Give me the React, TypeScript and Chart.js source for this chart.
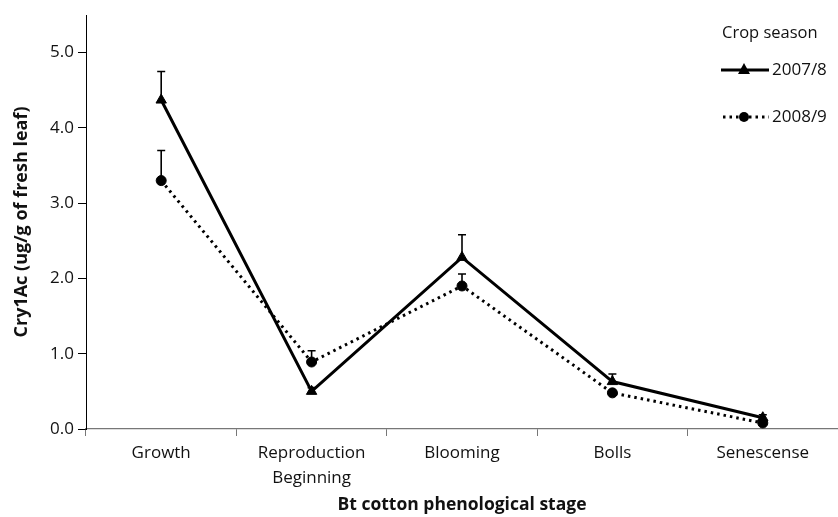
import React, { useEffect, useRef } from "react";
import { Chart, registerables } from "chart.js";

Chart.register(...registerables);

const categories: (string | string[])[] = [
  "Growth",
  ["Reproduction", "Beginning"],
  "Blooming",
  "Bolls",
  "Senescense",
];
const season1Label = "2007/8";
const season2Label = "2008/9";
const season1Values = [4.37, 0.5, 2.28, 0.63, 0.15];
const season1Errors = [0.38, 0.05, 0.3, 0.1, 0.04];
const season2Values = [3.3, 0.89, 1.9, 0.48, 0.08];
const season2Errors = [0.4, 0.15, 0.16, 0.0, 0.0];
const yTicks = [0, 1, 2, 3, 4, 5];

const FONT = "'Open Sans', 'DejaVu Sans', sans-serif";
const CANVAS_W = 845;

const errorBarPlugin = {
  id: "errorBars",
  afterDatasetsDraw(chart: any) {
    const ctx = chart.ctx;
    const yScale = chart.scales.y;
    const errs = [season1Errors, season2Errors];
    const vals = [season1Values, season2Values];
    ctx.save();
    ctx.strokeStyle = "#000";
    ctx.lineWidth = 1.6;
    chart.data.datasets.forEach((_: any, di: number) => {
      const meta = chart.getDatasetMeta(di);
      meta.data.forEach((pt: any, i: number) => {
        const e = errs[di][i];
        if (!e) return;
        const yTop = yScale.getPixelForValue(vals[di][i] + e);
        ctx.beginPath();
        ctx.moveTo(pt.x, pt.y);
        ctx.lineTo(pt.x, yTop);
        ctx.moveTo(pt.x - 4, yTop);
        ctx.lineTo(pt.x + 4, yTop);
        ctx.stroke();
      });
    });
    ctx.restore();
  },
};

const legendPlugin = {
  id: "customLegend",
  afterDraw(chart: any) {
    const ctx = chart.ctx;
    ctx.save();
    ctx.fillStyle = "#111";
    ctx.font = `16.5px ${FONT}`;
    ctx.textBaseline = "middle";
    ctx.textAlign = "left";
    ctx.fillText("Crop season", 722, 33);

    const y1 = 70;
    ctx.strokeStyle = "#000";
    ctx.lineWidth = 3;
    ctx.setLineDash([]);
    ctx.beginPath();
    ctx.moveTo(721, y1);
    ctx.lineTo(769, y1);
    ctx.stroke();
    ctx.fillStyle = "#000";
    ctx.beginPath();
    ctx.moveTo(744, y1 - 7);
    ctx.lineTo(750, y1 + 4);
    ctx.lineTo(738, y1 + 4);
    ctx.closePath();
    ctx.fill();
    ctx.fillStyle = "#111";
    ctx.font = `17px ${FONT}`;
    ctx.fillText(season1Label, 772, y1);

    const y2 = 117;
    ctx.strokeStyle = "#000";
    ctx.lineWidth = 3;
    ctx.setLineDash([2.5, 4]);
    ctx.beginPath();
    ctx.moveTo(723, y2);
    ctx.lineTo(769, y2);
    ctx.stroke();
    ctx.setLineDash([]);
    ctx.fillStyle = "#000";
    ctx.beginPath();
    ctx.arc(744, y2, 5, 0, Math.PI * 2);
    ctx.fill();
    ctx.fillStyle = "#111";
    ctx.fillText(season2Label, 772, y2);
    ctx.restore();
  },
};

export default function App() {
  const canvasRef = useRef<HTMLCanvasElement | null>(null);

  useEffect(() => {
    document.body.style.margin = "0";
    document.body.style.overflow = "hidden";
    document.documentElement.style.overflow = "hidden";
    const canvas = canvasRef.current;
    if (!canvas) return;
    const chart = new Chart(canvas, {
      type: "line",
      data: {
        labels: categories as any,
        datasets: [
          {
            label: season1Label,
            data: season1Values,
            borderColor: "#000",
            backgroundColor: "#000",
            borderWidth: 3,
            pointStyle: "triangle",
            pointRadius: 6,
            pointBorderWidth: 1,
            pointBackgroundColor: "#000",
            pointBorderColor: "#000",
            tension: 0,
          },
          {
            label: season2Label,
            data: season2Values,
            borderColor: "#000",
            backgroundColor: "#000",
            borderWidth: 3,
            borderDash: [2.5, 4],
            pointStyle: "circle",
            pointRadius: 5,
            pointBorderWidth: 1,
            pointBackgroundColor: "#000",
            pointBorderColor: "#000",
            tension: 0,
          },
        ],
      },
      options: {
        animation: false,
        responsive: false,
        maintainAspectRatio: false,
        layout: { padding: { top: 15, right: 0, left: 0, bottom: 0 } },
        plugins: {
          legend: { display: false },
          tooltip: { enabled: false },
        },
        scales: {
          x: {
            type: "category",
            offset: true,
            grid: {
              display: true,
              offset: true,
              drawOnChartArea: false,
              drawTicks: true,
              tickLength: 7,
              color: "#777",
            },
            border: { display: true, color: "#777", width: 1.2 },
            ticks: {
              color: "#111",
              font: { family: FONT, size: 17, lineHeight: 1.45 },
              padding: 5,
              maxRotation: 0,
              autoSkip: false,
            },
            title: {
              display: true,
              text: "Bt cotton phenological stage",
              color: "#111",
              font: { family: FONT, size: 17.5, weight: "bold" },
              padding: { top: 0, bottom: 1 },
            },
            afterFit(scale: any) {
              scale.height = 88;
            },
          },
          y: {
            min: 0,
            max: 5.5,
            afterBuildTicks(scale: any) {
              scale.ticks = yTicks.map((v) => ({ value: v }));
            },
            grid: {
              display: true,
              drawOnChartArea: false,
              drawTicks: true,
              tickLength: 8,
              color: "#000",
            },
            border: { display: true, color: "#000", width: 1 },
            ticks: {
              color: "#111",
              font: { family: FONT, size: 17 },
              padding: 4,
              callback: (v: any) => Number(v).toFixed(1),
            },
            title: {
              display: true,
              text: "Cry1Ac (ug/g of fresh leaf)",
              color: "#111",
              font: { family: FONT, size: 18, weight: "bold" },
              padding: { top: 11, bottom: 0 },
            },
            afterFit(scale: any) {
              scale.width = 86;
            },
          },
        },
      },
      plugins: [errorBarPlugin, legendPlugin],
    });
    return () => chart.destroy();
  }, []);

  return (
    <div style={{ position: "absolute", left: 0, top: 0, width: CANVAS_W, height: 517, background: "#fff" }}>
      <canvas ref={canvasRef} width={CANVAS_W} height={517} style={{ width: CANVAS_W, height: 517, display: "block" }} />
    </div>
  );
}
